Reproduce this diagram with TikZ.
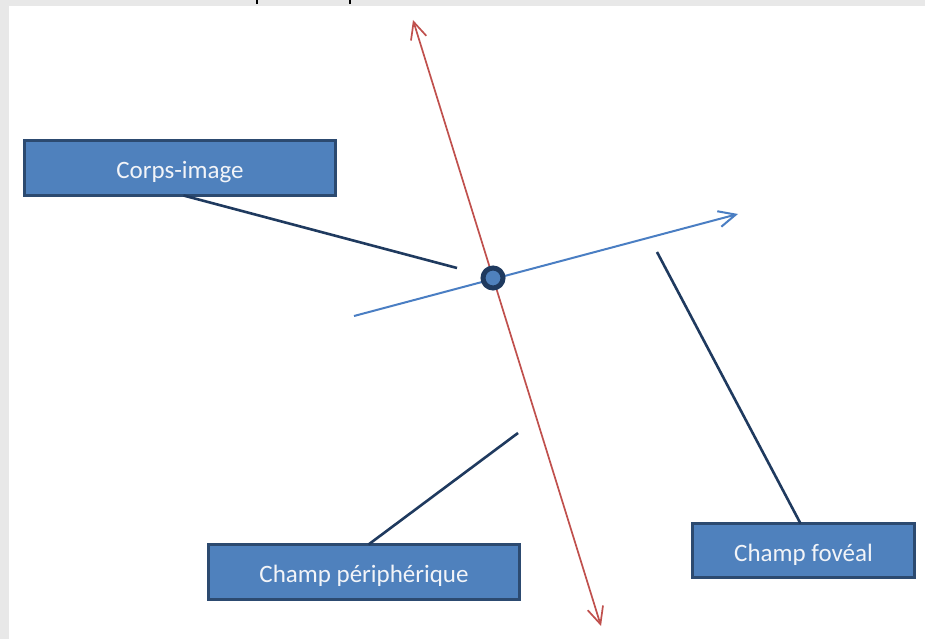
\documentclass[tikz,border=0pt]{standalone}
\usepackage{fontspec}
\setmainfont{Carlito}
\usetikzlibrary{arrows.meta}
\definecolor{boxfill}{HTML}{4F81BD}
\definecolor{boxline}{HTML}{2C4A70}
\definecolor{linknavy}{HTML}{1F3A5F}
\definecolor{redaxis}{HTML}{C0504D}
\definecolor{blueaxis}{HTML}{4A7EC3}
\definecolor{frame}{HTML}{E8E8E8}
\definecolor{boxtext}{HTML}{F2F4F8}
\newcommand{\boxlabel}[1]{\raisebox{-10.5pt}[0pt][0pt]{#1}}
\tikzset{
  labelbox/.style={draw=boxline, line width=3pt, fill=boxfill, text=boxtext,
    inner sep=0pt, outer sep=0pt, font=\fontsize{25}{30}\selectfont},
  linker/.style={draw=linknavy, line width=2.6pt},
}
\begin{document}
\begin{tikzpicture}[x=1pt,y=-1pt]
\useasboundingbox (0,0) rectangle (925,639);
\fill[white] (0,0) rectangle (925,639);
% frame strips of the screenshot
\fill[frame] (0,0) rectangle (9,639);
\fill[frame] (0,0) rectangle (925,6);
\fill[black] (256,0) rectangle (258,4);
\fill[black] (349,0) rectangle (351,4);

% boxes
\node[labelbox, minimum width=311pt, minimum height=55pt] (corps) at (180,168) {\boxlabel{Corps-image}};
\node[labelbox, minimum width=311pt, minimum height=55pt] (periph) at (364,572) {\boxlabel{Champ périphérique}};
\node[labelbox, minimum width=222pt, minimum height=54pt] (fov) at (803.5,550.5) {\boxlabel{Champ fovéal}};

% axis end points
\coordinate (rtop) at (413,20);
\coordinate (rbot) at (601,626);
\coordinate (bleft) at (354,316);
\coordinate (bright) at (738,214);
\coordinate (eye) at (493,278);

% axes
\draw[redaxis, line width=1.7pt, {Straight Barb[length=17pt,width=16pt,line width=1.7pt]}-{Straight Barb[length=17pt,width=16pt,line width=1.7pt]}] (rbot) -- (rtop);
\draw[blueaxis, line width=2pt, -{Straight Barb[length=17pt,width=16pt,line width=2pt]}] (bleft) -- (bright);

% eye point
\node[circle, draw=linknavy, line width=5pt, fill=boxfill, minimum size=20pt, inner sep=0pt] (pt) at (eye) {};

% connector free ends
\coordinate (cend) at (457,268);
\coordinate (pend) at (518,433);
\coordinate (fend) at (657,252);
\path (corps.south west) ++(159,0) coordinate (cstart);
\draw[linker] (cstart) -- (cend);
\path (periph.north west) ++(160,0) coordinate (pstart);
\draw[linker] (pstart) -- (pend);
\path (fov.north west) ++(108,0) coordinate (fstart);
\draw[linker] (fstart) -- (fend);
\end{tikzpicture}
\end{document}
